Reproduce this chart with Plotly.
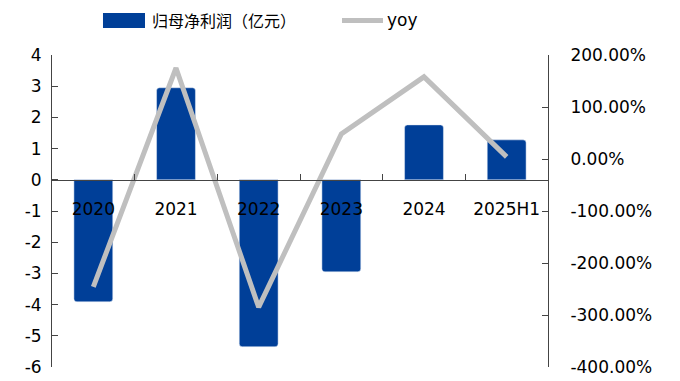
import plotly.graph_objects as go

categories = ["2020", "2021", "2022", "2023", "2024", "2025H1"]
profit = [-3.91, 2.95, -5.35, -2.95, 1.76, 1.28]
yoy = [-2.46, 1.75, -2.85, 0.48, 1.58, 0.04]
left_ticks = [4, 3, 2, 1, 0, -1, -2, -3, -4, -5, -6]
right_ticks = [2, 1, 0, -1, -2, -3, -4]

bar_color = "#003F98"
line_color = "#BFBFBF"
font_family = "DejaVu Sans"

fig = go.Figure()
fig.add_trace(go.Bar(x=categories, y=profit, marker_color=bar_color, width=0.47,
                     marker_cornerradius=3,
                     name="归母净利润（亿元）", showlegend=False, yaxis="y"))
fig.add_trace(go.Scatter(x=categories, y=yoy, mode="lines",
                         line=dict(color=line_color, width=5), name="yoy",
                         showlegend=False, yaxis="y2"))

fig.update_layout(
    width=680, height=381,
    margin=dict(l=52, r=132, t=55, b=14),
    paper_bgcolor="white", plot_bgcolor="white",
    font=dict(family=font_family, size=17, color="#000000"),
    xaxis=dict(anchor="free", position=0.6, showline=True, linecolor="#444444",
               linewidth=1, ticks="inside", ticklen=6, tickcolor="#444444",
               tickson="boundaries", showgrid=False, zeroline=False,
               tickfont=dict(size=17), automargin=False, ticklabelstandoff=14),
    yaxis=dict(range=[-6, 4], tickvals=left_ticks,
               ticktext=[str(v) for v in left_ticks],
               showline=True, linecolor="#444444",
               linewidth=1, ticks="inside", ticklen=6, tickcolor="#444444",
               showgrid=False, zeroline=False, ticklabelstandoff=6,
               automargin=False),
    yaxis2=dict(range=[-4, 2], tickvals=right_ticks,
                ticktext=[f"{v * 100:.2f}%" for v in right_ticks],
                overlaying="y", side="right",
                showline=True, linecolor="#444444",
                linewidth=1, ticks="inside", ticklen=6, tickcolor="#444444",
                showgrid=False, zeroline=False, ticklabelstandoff=18,
                automargin=False),
)

# legend drawn in the top margin
fig.add_shape(type="rect", xref="paper", yref="paper",
              x0=0.1028, x1=0.1875, y0=1.0865, y1=1.1346,
              fillcolor=bar_color, line=dict(width=0))
fig.add_annotation(xref="paper", yref="paper", x=0.1976, y=1.1106,
                   text="归母净利润（亿元）", showarrow=False, xanchor="left",
                   yanchor="middle", font=dict(size=16, family="Noto Sans CJK SC"))
fig.add_shape(type="line", xref="paper", yref="paper",
              x0=0.5847, x1=0.6673, y0=1.1106, y1=1.1106,
              line=dict(color=line_color, width=5))
fig.add_annotation(xref="paper", yref="paper", x=0.672, y=1.1106,
                   text="yoy", showarrow=False, xanchor="left",
                   yanchor="middle", font=dict(size=17))

fig.write_html("out.html")
